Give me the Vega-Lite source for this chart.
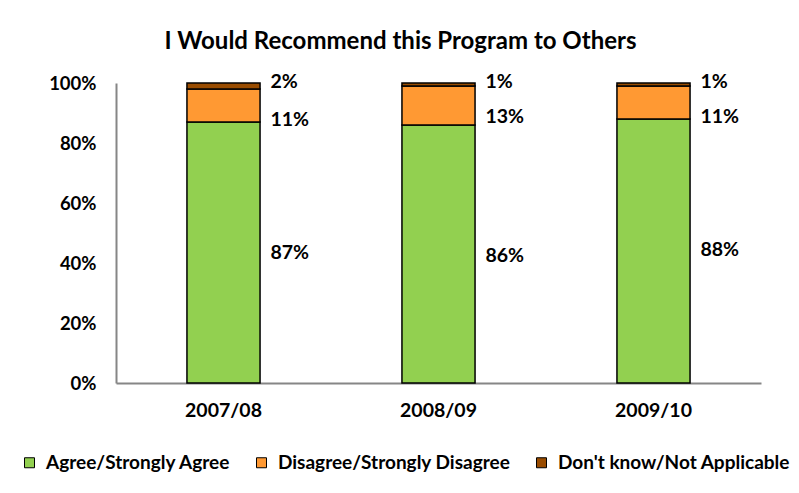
{
  "$schema": "https://vega.github.io/schema/vega-lite/v6.json",
  "width": 645,
  "height": 300,
  "autosize": "none",
  "padding": {"left": 116, "top": 83, "right": 38, "bottom": 110},
  "background": "white",
  "config": {"view": {"stroke": null}, "font": "Lato"},
  "title": {"text": "I Would Recommend this Program to Others", "font": "Lato", "fontSize": 24, "fontWeight": "bold", "color": "black", "anchor": "middle", "frame": "group", "dx": -38, "offset": 18},
  "data": {"values": [
    {"year": "2007/08", "series": "Agree/Strongly Agree", "value": 0.87},
    {"year": "2007/08", "series": "Disagree/Strongly Disagree", "value": 0.11},
    {"year": "2007/08", "series": "Don't know/Not Applicable", "value": 0.02},
    {"year": "2008/09", "series": "Agree/Strongly Agree", "value": 0.86},
    {"year": "2008/09", "series": "Disagree/Strongly Disagree", "value": 0.13},
    {"year": "2008/09", "series": "Don't know/Not Applicable", "value": 0.01},
    {"year": "2009/10", "series": "Agree/Strongly Agree", "value": 0.88},
    {"year": "2009/10", "series": "Disagree/Strongly Disagree", "value": 0.11},
    {"year": "2009/10", "series": "Don't know/Not Applicable", "value": 0.01}
  ]},
  "encoding": {
    "x": {"field": "year", "type": "nominal", "sort": null,
      "scale": {"paddingInner": 0.66, "paddingOuter": 0.33},
      "axis": {"title": null, "labelAngle": 0, "ticks": false, "domainColor": "#868686", "domainWidth": 2, "labelFont": "Lato", "labelFontSize": 19.5, "labelFontWeight": "bold", "labelColor": "black", "labelPadding": 18}}
  },
  "layer": [
    {
      "mark": {"type": "bar", "stroke": "black", "strokeWidth": 1.5},
      "encoding": {
        "y": {"field": "value", "type": "quantitative", "aggregate": "sum", "stack": "zero",
          "scale": {"domain": [0, 1]},
          "axis": {"title": null, "values": [0, 0.2, 0.4, 0.6, 0.8, 1], "format": ".0%", "grid": false, "ticks": false, "domainColor": "#868686", "domainWidth": 2, "labelFont": "Lato", "labelFontSize": 18.5, "labelFontWeight": "bold", "labelColor": "black", "labelPadding": 20}},
        "order": {"field": "series", "type": "nominal", "sort": "ascending"},
        "color": {"field": "series", "type": "nominal",
          "scale": {"domain": ["Agree/Strongly Agree", "Disagree/Strongly Disagree", "Don't know/Not Applicable"], "range": ["#92D050", "#FF9933", "#994C00"]},
          "legend": {"title": null, "orient": "none", "legendX": -96, "legendY": 370, "padding": 0, "direction": "horizontal", "symbolType": "square", "symbolSize": 100, "symbolStrokeColor": "black", "symbolStrokeWidth": 1, "labelFont": "Lato", "labelFontSize": 19, "labelFontWeight": "bold", "labelColor": "black", "columnPadding": 21, "labelOffset": 7, "labelLimit": 400}}
      }
    },
    {
      "transform": [
        {"stack": "value", "groupby": ["year"], "sort": [{"field": "series", "order": "ascending"}], "as": ["y0", "y1"]},
        {"filter": "datum.series === 'Agree/Strongly Agree'"}
      ],
      "mark": {"type": "text", "align": "left", "baseline": "middle", "dx": 47, "dy": 131, "font": "Lato", "fontSize": 19.5, "fontWeight": "bold", "color": "black"},
      "encoding": {
        "y": {"field": "y1", "type": "quantitative"},
        "text": {"field": "value", "type": "quantitative", "format": ".0%"}
      }
    },
    {
      "transform": [
        {"stack": "value", "groupby": ["year"], "sort": [{"field": "series", "order": "ascending"}], "as": ["y0", "y1"]},
        {"filter": "datum.series === 'Disagree/Strongly Disagree'"}
      ],
      "mark": {"type": "text", "align": "left", "baseline": "middle", "dx": 47, "dy": 31, "font": "Lato", "fontSize": 19.5, "fontWeight": "bold", "color": "black"},
      "encoding": {
        "y": {"field": "y1", "type": "quantitative"},
        "text": {"field": "value", "type": "quantitative", "format": ".0%"}
      }
    },
    {
      "transform": [
        {"stack": "value", "groupby": ["year"], "sort": [{"field": "series", "order": "ascending"}], "as": ["y0", "y1"]},
        {"filter": "datum.series === \"Don't know/Not Applicable\""}
      ],
      "mark": {"type": "text", "align": "left", "baseline": "middle", "dx": 47, "dy": -1, "font": "Lato", "fontSize": 19.5, "fontWeight": "bold", "color": "black"},
      "encoding": {
        "y": {"field": "y1", "type": "quantitative"},
        "text": {"field": "value", "type": "quantitative", "format": ".0%"}
      }
    }
  ]
}
